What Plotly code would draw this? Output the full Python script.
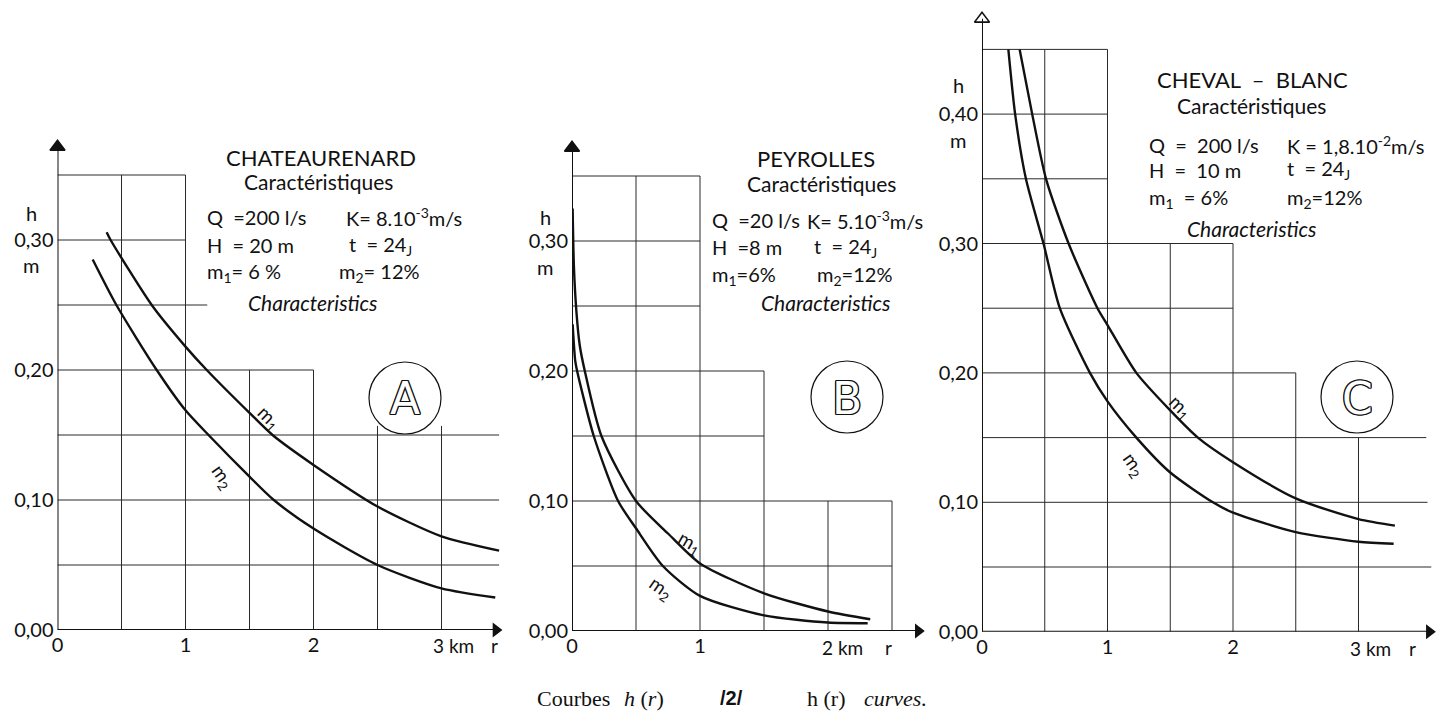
import plotly.graph_objects as go

W, H = 1456, 715

# ---------------- data ----------------
# Panel A - CHATEAURENARD
A_m1_r = [0.384, 0.415, 0.736, 1.00, 1.166, 1.50, 1.68, 2.00, 2.50, 3.00, 3.45]
A_m1_h = [0.306, 0.300, 0.250, 0.218, 0.200, 0.167, 0.150, 0.127, 0.095, 0.072, 0.061]
A_m2_r = [0.275, 0.46, 0.775, 1.00, 1.18, 1.50, 1.69, 2.00, 2.50, 3.00, 3.42]
A_m2_h = [0.285, 0.250, 0.200, 0.169, 0.150, 0.118, 0.100, 0.078, 0.050, 0.032, 0.025]

# Panel B - PEYROLLES
B_m1_r = [0.005, 0.015, 0.035, 0.06, 0.10, 0.23, 0.50, 0.75, 1.00, 1.50, 2.00, 2.33]
B_m1_h = [0.325, 0.280, 0.245, 0.220, 0.200, 0.150, 0.100, 0.075, 0.052, 0.029, 0.015, 0.009]
B_m2_r = [0.005, 0.025, 0.04, 0.17, 0.36, 0.50, 0.71, 1.00, 1.50, 2.00, 2.31]
B_m2_h = [0.236, 0.208, 0.200, 0.150, 0.100, 0.079, 0.050, 0.027, 0.012, 0.0065, 0.006]

# Panel C - CHEVAL-BLANC
C_m1_r = [0.30, 0.40, 0.51, 0.69, 0.92, 1.00, 1.23, 1.50, 1.72, 2.00, 2.50, 3.00, 3.29]
C_m1_h = [0.450, 0.400, 0.350, 0.300, 0.250, 0.237, 0.200, 0.171, 0.150, 0.131, 0.103, 0.087, 0.082]
C_m2_r = [0.21, 0.264, 0.35, 0.49, 0.62, 0.86, 1.00, 1.23, 1.50, 1.84, 2.00, 2.50, 3.00, 3.28]
C_m2_h = [0.450, 0.400, 0.350, 0.300, 0.250, 0.200, 0.178, 0.150, 0.123, 0.100, 0.092, 0.077, 0.0695, 0.068]

# stepped grids: horizontal levels with their lengths, vertical lines with their heights
A_grid_h = [0.05, 0.10, 0.15, 0.20, 0.25, 0.30, 0.35]
A_grid_h_len = [3.45, 3.45, 3.45, 2.00, 1.17, 1.00, 1.00]
A_grid_v = [0.5, 1.0, 1.5, 2.0, 2.5, 3.0]
A_grid_v_len = [0.35, 0.35, 0.20, 0.20, 0.157, 0.157]

B_grid_h = [0.05, 0.10, 0.15, 0.20, 0.25, 0.30, 0.35]
B_grid_h_len = [2.50, 2.50, 1.50, 1.50, 1.00, 1.00, 1.00]
B_grid_v = [0.5, 1.0, 1.5, 2.0, 2.5]
B_grid_v_len = [0.35, 0.35, 0.20, 0.10, 0.10]

C_grid_h = [0.05, 0.10, 0.15, 0.20, 0.25, 0.30, 0.35, 0.40, 0.45]
C_grid_h_len = [3.58, 3.55, 3.54, 2.50, 2.00, 2.00, 1.00, 1.00, 1.00]
C_grid_v = [0.5, 1.0, 1.5, 2.0, 2.5, 3.0]
C_grid_v_len = [0.45, 0.45, 0.30, 0.30, 0.20, 0.15]

A_yticks = [0.0, 0.1, 0.2, 0.3]
B_yticks = [0.0, 0.1, 0.2, 0.3]
C_yticks = [0.0, 0.1, 0.2, 0.3, 0.4]
A_xticks = [0, 1, 2]
B_xticks = [0, 1]
C_xticks = [0, 1, 2]

def ylab(v):
    return f"{v:.2f}".replace(".", ",")

FONT = "Lato"
INK = "#111111"

# panel geometry (pixels)
panels = [
    dict(key="", x0=57.5, y0=630, pxkm=128, pxh=1300, xmax=3.48, ymax=0.377, open_arrow=False,
         m1=(A_m1_r, A_m1_h), m2=(A_m2_r, A_m2_h),
         gh=(A_grid_h, A_grid_h_len), gv=(A_grid_v, A_grid_v_len),
         yt=A_yticks, xt=A_xticks),
    dict(key="2", x0=572, y0=631, pxkm=128, pxh=1300, xmax=2.76, ymax=0.377, open_arrow=False,
         m1=(B_m1_r, B_m1_h), m2=(B_m2_r, B_m2_h),
         gh=(B_grid_h, B_grid_h_len), gv=(B_grid_v, B_grid_v_len),
         yt=B_yticks, xt=B_xticks),
    dict(key="3", x0=982, y0=631.7, pxkm=125.5, pxh=1294, xmax=3.62, ymax=0.479, open_arrow=True,
         m1=(C_m1_r, C_m1_h), m2=(C_m2_r, C_m2_h),
         gh=(C_grid_h, C_grid_h_len), gv=(C_grid_v, C_grid_v_len),
         yt=C_yticks, xt=C_xticks),
]

fig = go.Figure()
shapes = []
annotations = []

def P(x, y):
    return x / W, 1 - y / H

for p in panels:
    k = p["key"]
    xr, yr = "x" + k, "y" + k
    xd = [p["x0"] / W, (p["x0"] + p["xmax"] * p["pxkm"]) / W]
    yd = [(H - p["y0"]) / H, (H - p["y0"] + p["ymax"] * p["pxh"]) / H]
    ax_common = dict(showgrid=False, zeroline=False, showline=False, ticks="", automargin=False,
                     tickfont=dict(family=FONT, size=20, color=INK), fixedrange=True)
    fig.layout["xaxis" + k] = dict(domain=xd, range=[0, p["xmax"]], anchor=yr,
                                   tickvals=p["xt"], ticktext=[str(v) for v in p["xt"]],
                                   ticklabelstandoff=1, **ax_common)
    fig.layout["yaxis" + k] = dict(domain=yd, range=[0, p["ymax"]], anchor=xr,
                                   tickvals=p["yt"], ticktext=[ylab(v) for v in p["yt"]],
                                   ticklabelstandoff=3, **ax_common)
    # stepped grid
    for lvl, ln in zip(*p["gh"]):
        shapes.append(dict(type="line", xref=xr, yref=yr, x0=0, x1=ln, y0=lvl, y1=lvl,
                           line=dict(color="#2a2a2a", width=1), layer="below"))
    for rv, hv in zip(*p["gv"]):
        shapes.append(dict(type="line", xref=xr, yref=yr, x0=rv, x1=rv, y0=0, y1=hv,
                           line=dict(color="#2a2a2a", width=1), layer="below"))
    # axes with arrows
    dx = 7 / p["pxkm"]
    dy = 7 / p["pxh"]
    shapes.append(dict(type="line", xref=xr, yref=yr, x0=0, x1=p["xmax"] - dx, y0=0, y1=0,
                       line=dict(color=INK, width=2)))
    shapes.append(dict(type="line", xref=xr, yref=yr, x0=0, x1=0, y0=0, y1=p["ymax"] - dy,
                       line=dict(color=INK, width=2)))
    fig.add_trace(go.Scatter(x=[p["xmax"] - dx], y=[0], xaxis=xr, yaxis=yr, mode="markers",
                             marker=dict(symbol="triangle-right", size=13, color=INK),
                             cliponaxis=False, hoverinfo="skip", showlegend=False))
    fig.add_trace(go.Scatter(x=[0], y=[p["ymax"] - dy], xaxis=xr, yaxis=yr, mode="markers",
                             marker=dict(symbol="triangle-up-open" if p["open_arrow"] else "triangle-up",
                                         size=13, color=INK, line=dict(width=1.6, color=INK)),
                             cliponaxis=False, hoverinfo="skip", showlegend=False))
    # curves
    for (rr, hh) in (p["m1"], p["m2"]):
        fig.add_trace(go.Scatter(x=rr, y=hh, xaxis=xr, yaxis=yr, mode="lines",
                                 line=dict(color=INK, width=2.4, shape="spline", smoothing=0.7),
                                 cliponaxis=False, hoverinfo="skip", showlegend=False))

# curve labels (data coords)
curve_labels = [
    ("x", "y", 1.65, 0.163, "m<sub>1</sub>", 45),
    ("x", "y", 1.29, 0.118, "m<sub>2</sub>", 55),
    ("x2", "y2", 0.92, 0.068, "m<sub>1</sub>", 30),
    ("x2", "y2", 0.69, 0.033, "m<sub>2</sub>", 35),
    ("x3", "y3", 1.58, 0.174, "m<sub>1</sub>", 45),
    ("x3", "y3", 1.21, 0.129, "m<sub>2</sub>", 55),
]
for xr, yr, xv, yv, t, ang in curve_labels:
    annotations.append(dict(xref=xr, yref=yr, x=xv, y=yv, text=t, textangle=ang,
                            showarrow=False, font=dict(family=FONT, size=19, color=INK)))

def txt(x, y, s, size=19, anchor="left", italic=False, family=FONT):
    px, py = P(x, y)
    annotations.append(dict(xref="paper", yref="paper", x=px, y=py, text=s, showarrow=False,
                            xanchor=anchor, yanchor="middle",
                            font=dict(family=family, size=size, color=INK,
                                      style="italic" if italic else "normal")))

# panel texts
blocks = [
    ("CHATEAURENARD", (321, 157), (318, 182),
     [(205, 217, "Q  =200 l/s"), (344, 217, "K= 8.10<sup>-3</sup>m/s"),
      (205, 245, "H  = 20 m"), (347, 245, "t  = 24<sub>J</sub>"),
      (205, 272, "m<sub>1</sub>= 6 %"), (337, 272, "m<sub>2</sub>= 12%")],
     (313, 303)),
    ("PEYROLLES", (816, 158), (821, 183),
     [(710, 220, "Q  =20 l/s"), (805, 220, "K= 5.10<sup>-3</sup>m/s"),
      (710, 247, "H  =8 m"), (812, 247, "t  = 24<sub>J</sub>"),
      (710, 275, "m<sub>1</sub>=6%"), (815, 275, "m<sub>2</sub>=12%")],
     (826, 303)),
    ("CHEVAL  –  BLANC", (1252, 80), (1251, 105),
     [(1147, 145, "Q  =  200 l/s"), (1285, 145, "K = 1,8.10<sup>-2</sup>m/s"),
      (1147, 170, "H  =  10 m"), (1285, 170, "t  = 24<sub>J</sub>"),
      (1147, 198, "m<sub>1</sub>  = 6%"), (1285, 198, "m<sub>2</sub>=12%")],
     (1252, 228)),
]
for title, tp, sp, lines, cp in blocks:
    txt(tp[0], tp[1], title, size=22, anchor="center")
    txt(sp[0], sp[1], "Caractéristiques", size=21, anchor="center")
    for (x, y, s) in lines:
        txt(x, y, s, size=20)
    txt(cp[0], cp[1], "Characteristics", size=21, anchor="center", italic=True)

# h / m unit labels around a tick
for (x, yh, ym) in [(31, 213, 265), (545, 217, 267), (958, 85, 140)]:
    txt(x, yh, "h", size=20, anchor="center")
    txt(x, ym, "m", size=20, anchor="center")

# x-axis end labels
for (x, y, s) in [(453, 645, "3 km"), (494, 645, "r"),
                  (842, 647, "2 km"), (888, 647, "r"),
                  (1370, 648, "3 km"), (1412, 648, "r")]:
    txt(x, y, s, size=19, anchor="center")

# circled letters
for (cx, cy, letter) in [(405, 398, "A"), (847, 397, "B"), (1357, 397, "C")]:
    r = 36
    x0, y1 = P(cx - r, cy - r)
    x1, y0 = P(cx + r, cy + r)
    shapes.append(dict(type="circle", xref="paper", yref="paper", x0=x0, x1=x1, y0=y0, y1=y1,
                       line=dict(color=INK, width=1.2)))
    px, py = P(cx, cy + 1)
    annotations.append(dict(xref="paper", yref="paper", x=px, y=py, text=letter, showarrow=False,
                            xanchor="center", yanchor="middle",
                            font=dict(family="DejaVu Sans", size=44, color="white",
                                      shadow="1.3px 0 0 #111, -1.3px 0 0 #111, 0 1.3px 0 #111, 0 -1.3px 0 #111, 1px 1px 0 #111, -1px -1px 0 #111, 1px -1px 0 #111, -1px 1px 0 #111")))

# caption
SERIF = "Liberation Serif"
txt(612, 698, "Courbes", size=22, anchor="right", family=SERIF)
txt(622, 698, "<i>h</i> (<i>r</i>)", size=22, family=SERIF)
px, py = P(731, 698)
annotations.append(dict(xref="paper", yref="paper", x=px, y=py, text="<b>/2/</b>", showarrow=False,
                        xanchor="center", yanchor="middle",
                        font=dict(family="Liberation Sans", size=20, color=INK)))
txt(805, 698, "h (r)", size=22, family=SERIF)
txt(862, 698, "<i>curves.</i>", size=22, family=SERIF)

fig.update_layout(width=W, height=H, margin=dict(l=0, r=0, t=0, b=0, autoexpand=False),
                  paper_bgcolor="white", plot_bgcolor="white",
                  shapes=shapes, annotations=annotations, showlegend=False)

fig.write_html("out.html", config={"displayModeBar": False},
               post_script="document.body.style.margin='0';document.body.style.overflow='hidden';")
